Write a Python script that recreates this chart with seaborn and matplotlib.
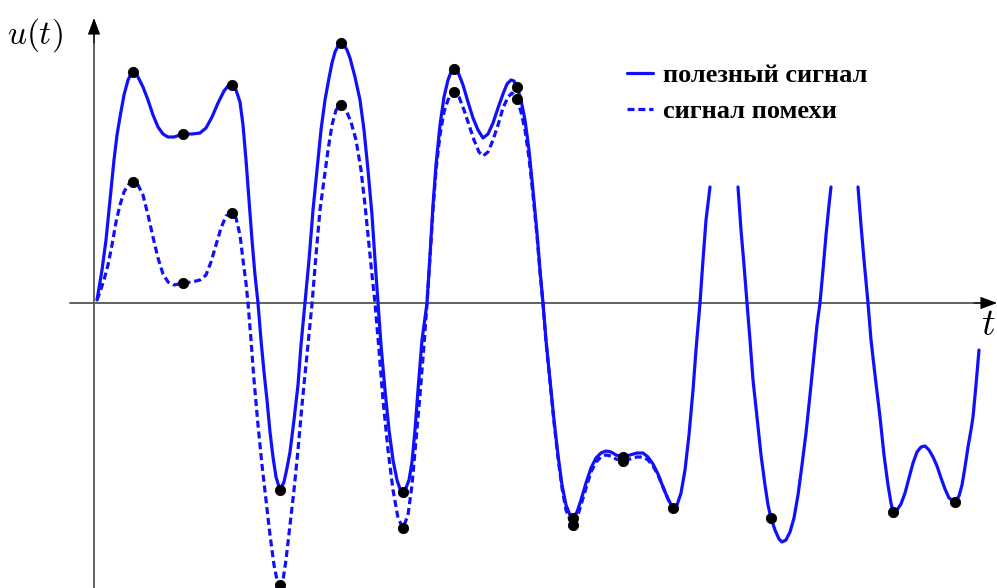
import pandas as pd
import matplotlib.pyplot as plt
import seaborn as sns

# useful signal (t, u), three visible pieces
sig_t_a = [3, 8, 12, 16, 20, 23, 26, 30, 34, 37, 39, 42, 45, 49, 54, 59, 64, 69, 74, 80, 89, 98,
           106, 112, 118, 124, 130, 134, 138, 142, 146, 149, 152, 155, 158, 161, 164, 167,
           170, 173, 176, 179, 182, 186, 190, 193, 196, 200, 204, 207, 211, 215, 219, 223,
           227, 231, 235, 238, 241, 244, 247, 250, 253, 256, 261, 266, 270, 274, 278, 281, 284, 287,
           291, 295, 299, 303, 306, 309, 312, 315, 318, 321, 324, 328, 333, 336, 339, 342, 346, 350,
           354, 357, 360, 364, 369, 374, 379, 384, 389, 394, 399, 404, 409, 413, 417, 420,
           423, 427, 431, 435, 439, 443, 446, 449, 452, 456, 460, 464, 468, 472, 476, 479,
           483, 487, 492, 497, 502, 507, 512, 517, 522, 529, 536, 543, 549, 554, 559, 564,
           569, 574, 579, 583, 587, 591, 595, 599, 602, 606, 609, 612, 616]
sig_u_a = [3, 33, 63, 103, 143, 168, 186, 208, 223, 229, 231, 230, 224, 216, 203, 188, 176, 169, 166, 166, 169, 169,
           170, 175, 186, 200, 212, 217, 218, 213, 201, 178, 143, 103, 63, 28, 0, -37,
           -69, -97, -129, -154, -174, -187, -179, -165, -149, -117, -82, -42, 0, 43, 93, 133,
           173, 203, 225, 240, 251, 257, 260, 258, 253, 245, 226, 203, 173, 133, 88, 43, 0, -42,
           -87, -127, -157, -177, -186, -189, -185, -177, -159, -127, -87, -37, 0, 48, 98, 138, 178, 206,
           223, 231, 234, 231, 218, 201, 185, 173, 165, 169, 180, 195, 209, 219, 223, 222,
           216, 203, 183, 153, 113, 70, 33, 0, -37, -77, -117, -152, -182, -202, -212, -215,
           -209, -197, -180, -165, -155, -150, -148, -149, -152, -154, -152, -150, -150, -154, -161, -171,
           -184, -196, -205, -202, -190, -167, -132, -87, -47, 0, 43, 83, 116]
sig_t_b = [644, 647, 650, 653, 656, 659, 663, 667, 671, 674, 677, 681, 685, 688, 692, 696,
           700, 704, 708, 712, 716, 720, 723, 726, 729, 732, 735, 737]
sig_u_b = [116, 73, 38, 0, -37, -77, -114, -152, -182, -202, -215, -227, -236, -239, -237, -229,
           -215, -192, -162, -130, -92, -52, -22, 0, 33, 68, 98, 116]
sig_t_c = [764, 767, 770, 774, 777, 781, 786, 790, 794, 797, 799, 803, 807, 811, 815, 819,
           823, 827, 831, 835, 839, 843, 847, 851, 855, 861, 865, 868, 871, 874, 877, 879,
           882, 885]
sig_u_c = [116, 78, 43, 0, -37, -72, -114, -152, -182, -200, -209, -207, -201, -190, -175, -160,
           -149, -144, -143, -147, -154, -163, -175, -186, -195, -199, -193, -182, -164, -144, -127, -114,
           -82, -47]

# interference signal (dashed)
noise_t = [3, 6, 10, 14, 18, 22, 26, 30, 34, 39, 44, 49, 54, 59, 64, 69, 74, 80, 89, 98,
           106, 112, 117, 122, 127, 132, 138, 142, 146, 149, 152, 154, 157, 160, 164, 168,
           172, 176, 180, 183, 186, 189, 192, 196, 200, 204, 208, 213, 218, 222, 226, 230,
           234, 238, 242, 247, 252, 257, 262, 267, 271, 275, 278, 281, 285, 289, 294, 299,
           304, 309, 314, 318, 322, 326, 330, 333, 336, 339, 342, 346, 350, 354, 357, 360,
           365, 370, 375, 380, 385, 389, 394, 399, 404, 409, 414, 418, 423, 427, 431, 435,
           439, 443, 446, 449, 452, 456, 460, 464, 468, 472, 476, 479, 483, 487, 492, 497,
           502, 507, 512, 517, 522, 529, 536, 543, 549, 554, 559, 564, 569, 574, 579]
noise_u = [3, 11, 23, 38, 58, 81, 98, 111, 118, 121, 118, 108, 88, 66, 45, 29, 21, 18, 20, 21,
           23, 28, 41, 58, 75, 87, 90, 85, 68, 43, 20, 0, -37, -77, -122, -162,
           -197, -232, -262, -277, -282, -277, -257, -222, -187, -147, -102, -52, -1, 48, 93, 123,
           153, 178, 193, 198, 193, 181, 163, 133, 98, 58, 28, 0, -47, -97, -147, -187,
           -215, -225, -212, -182, -137, -92, -42, 0, 45, 93, 133, 168, 191, 203, 209, 211,
           206, 193, 178, 163, 151, 147, 151, 163, 178, 195, 206, 210, 204, 191, 173, 145,
           108, 67, 31, -1, -39, -79, -119, -155, -185, -207, -217, -222, -215, -202, -185, -169,
           -159, -154, -152, -153, -156, -158, -156, -154, -154, -157, -163, -172, -184, -196, -205]

# marked extrema
sig_dot_t = [39, 89, 138, 186, 247, 309, 360, 423, 479, 529, 579, 677, 799, 861]
sig_dot_u = [231, 169, 218, -187, 260, -189, 234, 216, -215, -154, -205, -215, -209, -199]
noise_dot_t = [39, 89, 138, 186, 247, 309, 360, 423, 479, 529]
noise_dot_u = [121, 20, 90, -282, 198, -225, 211, 204, -222, -158]

blue = "#1010ff"
axis_col = "#555555"

sns.set_style("white")
plt.rcParams["mathtext.fontset"] = "cm"

fig = plt.figure(figsize=(9.97, 5.88), dpi=100)
ax = fig.add_axes([0, 0, 1, 1])

# coordinate axes: gray lines, black arrow heads
ax.plot([-24, 895], [0, 0], color=axis_col, lw=1.3, zorder=1)
ax.plot([0, 0], [-290, 278], color=axis_col, lw=1.3, zorder=1)
arrow = dict(arrowstyle="-|>,head_length=0.8,head_width=0.3", mutation_scale=13,
             shrinkA=0, shrinkB=0, fc="black", ec="black", lw=0.8)
ax.annotate("", xy=(903, 0), xytext=(880, 0), arrowprops=arrow)
ax.annotate("", xy=(0, 285), xytext=(0, 260), arrowprops=arrow)

segs = [(sig_t_a, sig_u_a), (sig_t_b, sig_u_b), (sig_t_c, sig_u_c)]
for i, (tt, uu) in enumerate(segs):
    df = pd.DataFrame({"t": tt, "u": uu})
    sns.lineplot(data=df, x="t", y="u", sort=False, estimator=None, ax=ax,
                 color=blue, lw=2.3, label="полезный сигнал" if i == 0 else None)

df_n = pd.DataFrame({"t": noise_t, "u": noise_u})
sns.lineplot(data=df_n, x="t", y="u", sort=False, estimator=None, ax=ax,
             color=blue, lw=2.3, linestyle=(0, (2.2, 1.2)), label="сигнал помехи")

sns.scatterplot(x=sig_dot_t, y=sig_dot_u, color="black", s=55, edgecolor=None, ax=ax, zorder=5)
sns.scatterplot(x=noise_dot_t, y=noise_dot_u, color="black", s=55, edgecolor=None, ax=ax, zorder=5)

ax.text(-59, 268, "$u(t)$", fontsize=24, ha="center", va="center", color="black")
ax.text(894, -22, "$t$", fontsize=27, ha="center", va="center", color="black")

leg = ax.legend(loc="upper left", bbox_to_anchor=(627 / 997, 1 - 64 / 588),
                frameon=False, borderpad=0, borderaxespad=0, handlelength=1.0,
                handletextpad=0.35, labelspacing=0.45, labelcolor="black",
                prop={"family": "Liberation Serif", "weight": "bold", "size": 19})

ax.set_xlim(-94, 903)
ax.set_ylim(-285, 303)
ax.set_axis_off()

plt.savefig("out.png", dpi=100)
